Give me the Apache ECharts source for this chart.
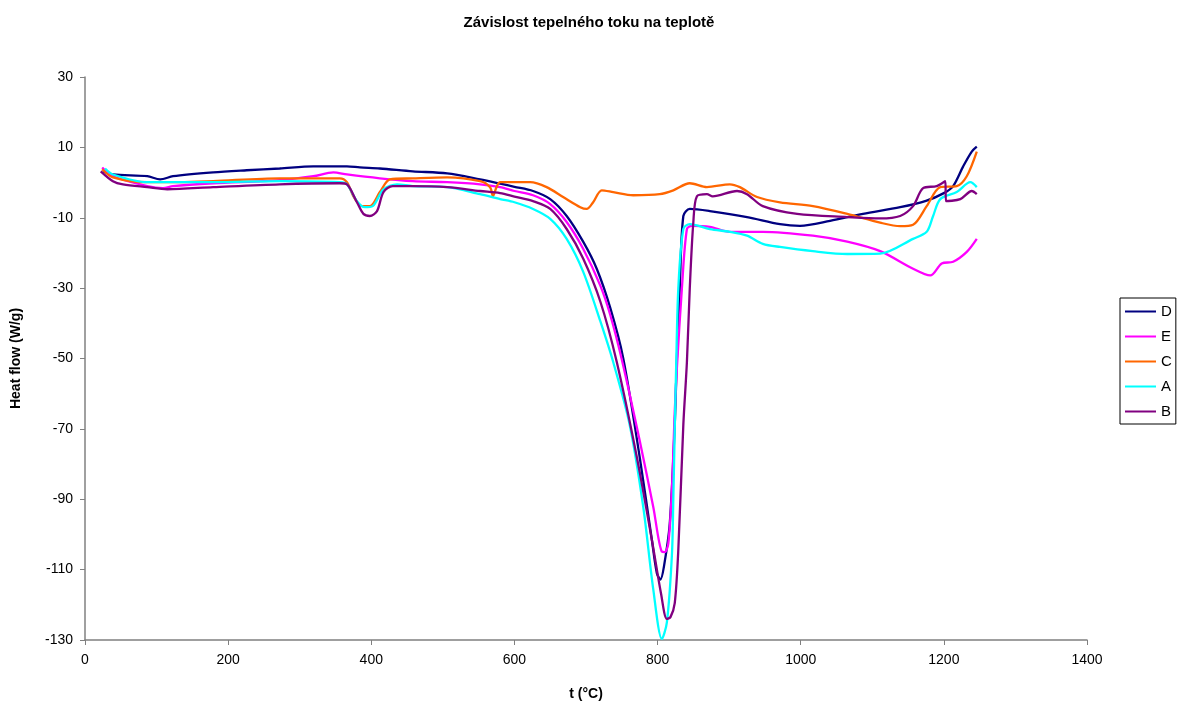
<!DOCTYPE html>
<html><head><meta charset="utf-8">
<script src="https://cdn.jsdelivr.net/npm/echarts@6/dist/echarts.min.js"></script>
<style>html,body{margin:0;padding:0;background:#fff}#c{width:1178px;height:706px}</style>
</head><body><div id="c"></div>
<script>
var seriesNames = ['D','E','C','A','B'];
var colors = ['#000080','#FF00FF','#FF6600','#00FFFF','#800080'];

var tD = [25,39,87,105,123,179,226,272,319,366,384,412,458,506,552,580,600,626,650,673,696,715,734,752,775,792,799,804,809,817,824,827,831,836,845,873,925,971,999,1041,1087,1139,1175,1200,1213,1227,1239,1246];
var vD = [3.2,2.3,1.8,0.9,1.8,2.9,3.5,4.0,4.6,4.6,4.3,4.0,3.2,2.6,0.9,-0.3,-1.2,-2.4,-4.7,-9.5,-16.8,-24.5,-35.7,-49.9,-78,-101.5,-111,-112.8,-109,-97,-68.8,-49.9,-30,-9.5,-7.5,-8.1,-9.8,-11.8,-12.3,-10.9,-8.9,-7.0,-5.2,-3.0,-1.0,4.6,8.8,10.2];

var tE = [24,39,87,109,123,179,272,319,347,366,412,458,506,552,580,600,626,650,673,696,720,734,750,775,794,806,810,815,820,824,827,834,841,848,873,901,925,947,1017,1065,1111,1157,1181,1197,1213,1232,1246];
var vE = [4.3,1.8,-1.0,-1.6,-1.0,-0.2,0.7,1.8,2.9,2.3,1.2,0.4,0.1,-0.5,-1.3,-2.4,-3.6,-6.1,-11.2,-18.8,-29.3,-37.7,-50.3,-73.3,-92.2,-104.9,-105,-102.6,-87.4,-65,-52.7,-30,-13.2,-12.3,-12.6,-14.0,-14.0,-14.0,-15.1,-16.8,-19.5,-24.5,-26.4,-23.0,-22.5,-19.7,-16.0];

var tC = [24,39,87,133,179,272,356,366,375,387,398,412,426,458,506,552,566,570,575,580,622,645,668,692,701,710,722,738,766,803,822,845,869,901,915,939,971,1017,1065,1111,1139,1157,1176,1195,1218,1232,1246];
var vC = [3.8,1.5,0.1,0.1,0.4,1.2,1.2,0.1,-3.9,-6.7,-6.7,-2.7,0.9,1.2,1.5,0.4,-1.3,-3.9,-1.3,0.1,0.1,-1.3,-4.1,-7.0,-7.5,-5.6,-2.2,-2.7,-3.6,-3.3,-2.2,-0.2,-1.3,-0.5,-1.3,-4.1,-5.6,-6.7,-8.9,-11.4,-12.4,-12.0,-6.7,-1.3,-1.0,1.8,8.8];

var tA = [28,39,87,133,179,272,356,366,380,391,402,417,436,458,506,552,580,600,626,650,673,696,720,738,761,780,794,806,813,820,822,824,826,829,836,845,873,901,925,947,971,1017,1065,1111,1157,1176,1185,1195,1218,1237,1246];
var vA = [4.0,2.3,0.1,0.1,0.1,0.4,0.1,-0.5,-5.3,-7.0,-6.7,-1.9,-0.5,-1.0,-1.3,-3.3,-4.7,-5.6,-7.5,-10.3,-16.0,-25.3,-39.4,-51,-68.8,-92.2,-115.6,-129.7,-125,-106,-90,-70,-52,-30,-13.2,-11.8,-13.2,-14.0,-15.1,-17.4,-18.3,-19.5,-20.3,-20.2,-16.0,-14.0,-9.5,-4.7,-2.7,0.1,-1.3];

var tB = [22,39,53,87,115,179,272,356,366,380,389,398,408,417,430,458,506,552,580,600,626,650,673,696,720,743,771,792,805,813,818,824,829,836,841,845,850,855,869,877,911,925,947,995,1065,1111,1139,1157,1171,1190,1202,1203,1223,1239,1246];
var vB = [3.2,0.4,-0.5,-1.3,-1.9,-1.3,-0.5,-0.2,-0.5,-5.6,-8.9,-9.5,-8.1,-2.7,-1.0,-1.0,-1.3,-2.4,-3.0,-4.0,-5.3,-7.5,-13.2,-21.6,-33.8,-51,-78,-101.5,-117,-124,-123.5,-119.5,-104.3,-68.8,-51,-30,-11.2,-3.9,-3.3,-3.9,-2.4,-3.3,-6.7,-8.9,-9.8,-10.2,-9.5,-6.7,-1.6,-1.0,0.4,-5.3,-4.7,-2.4,-3.3];

var xTicks = [0,200,400,600,800,1000,1200,1400];
var yTicks = [30,10,-10,-30,-50,-70,-90,-110,-130];

var allT = [tD,tE,tC,tA,tB];
var allV = [vD,vE,vC,vA,vB];

function pairs(t,v){var o=[];for(var i=0;i<t.length;i++)o.push([t[i],v[i]]);return o;}

var font = 'Liberation Sans, Arial, sans-serif';
var chart = echarts.init(document.getElementById('c'), null, {renderer:'canvas'});
var series = seriesNames.map(function(n,i){
  return {name:n,type:'line',data:pairs(allT[i],allV[i]),showSymbol:false,symbol:'none',
    smooth:0.3,lineStyle:{width:2.3,color:colors[i]},itemStyle:{color:colors[i]},z:2};
});
chart.setOption({
  animation:false,
  backgroundColor:'#ffffff',
  title:{text:'Závislost tepelného toku na teplotě',left:'center',top:10,
    textStyle:{fontFamily:font,fontSize:15,fontWeight:'bold',color:'#000'}},
  legend:{orient:'vertical',left:1120,top:298,itemWidth:31,itemHeight:2,itemGap:10,
    borderColor:'#000',borderWidth:1,padding:[6,4,5,5],
    textStyle:{fontFamily:font,fontSize:15,color:'#000',padding:[0,0,0,0]},
    data:seriesNames.map(function(n,i){return {name:n,icon:'rect'};})},
  grid:{left:85,right:91,top:77,bottom:62,containLabel:false},
  xAxis:{type:'value',min:xTicks[0],max:xTicks[xTicks.length-1],interval:200,
    name:'t (°C)',nameLocation:'middle',nameGap:47,
    nameTextStyle:{fontFamily:font,fontSize:14,fontWeight:'bold',color:'#000'},
    axisLine:{show:true,onZero:false,lineStyle:{color:'#808080',width:1.5}},
    axisTick:{show:true,inside:false,length:5,lineStyle:{color:'#808080'}},
    axisLabel:{fontFamily:font,fontSize:14,color:'#000',margin:13,formatter:function(v){return String(v);}},
    splitLine:{show:false}},
  yAxis:{type:'value',min:yTicks[yTicks.length-1],max:yTicks[0],interval:20,
    name:'Heat flow (W/g)',nameLocation:'middle',nameGap:62,nameRotate:90,
    nameTextStyle:{fontFamily:font,fontSize:14,fontWeight:'bold',color:'#000'},
    axisLine:{show:true,onZero:false,lineStyle:{color:'#808080',width:1.5}},
    axisTick:{show:true,inside:false,length:5,lineStyle:{color:'#808080'}},
    axisLabel:{fontFamily:font,fontSize:14,color:'#000',margin:12,formatter:function(v){return String(v);}},
    splitLine:{show:false}},
  series:series
});
</script></body></html>
